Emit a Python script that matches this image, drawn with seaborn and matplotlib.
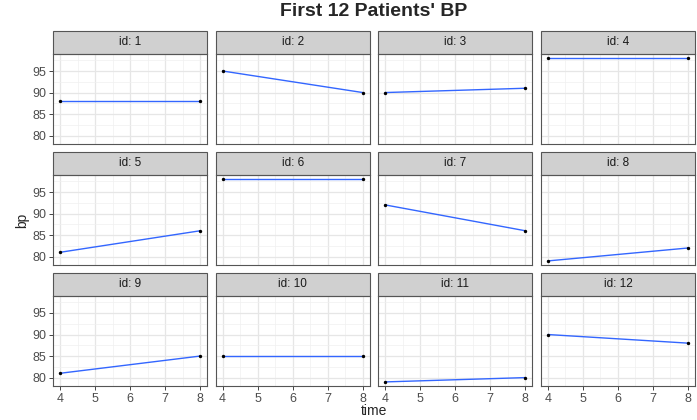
import pandas as pd
import numpy as np
import matplotlib.pyplot as plt
import seaborn as sns
from matplotlib.patches import Rectangle
from matplotlib.ticker import MultipleLocator

# --- data ---
ids = list(range(1, 13))
times = [4, 8]
bp_time4 = [88, 95, 90, 98, 81, 98, 92, 79, 81, 85, 79, 90]
bp_time8 = [88, 90, 91, 98, 86, 98, 86, 82, 85, 85, 80, 88]

rows = []
for i, a, b in zip(ids, bp_time4, bp_time8):
    rows.append({'id': i, 'time': times[0], 'bp': a})
    rows.append({'id': i, 'time': times[1], 'bp': b})
df = pd.DataFrame(rows)

sns.set_style('white')
plt.rcParams['font.family'] = ['Liberation Sans', 'DejaVu Sans']

g = sns.FacetGrid(df, col='id', col_wrap=4, sharex=True, sharey=True,
                  height=1.2, aspect=1.6, despine=False)
g.map_dataframe(sns.lineplot, x='time', y='bp', color='#3366FF', linewidth=1.0)
g.map_dataframe(sns.scatterplot, x='time', y='bp', color='black', s=6, linewidth=0, zorder=5)

fig = g.figure
fig.set_size_inches(6.97, 4.2)
fig.subplots_adjust(left=53/697, right=695/697, top=1-54/420, bottom=1-386/420,
                    wspace=0.055, hspace=0.344)

strip_h = 23 / 90
for k, ax in enumerate(g.axes.flat):
    ax.set_title('')
    ax.set_xlabel('')
    ax.set_ylabel('')
    ax.set_xlim(3.8, 8.2)
    ax.set_ylim(78.05, 98.95)
    ax.xaxis.set_major_locator(MultipleLocator(1))
    ax.xaxis.set_minor_locator(MultipleLocator(0.5))
    ax.yaxis.set_major_locator(MultipleLocator(5))
    ax.yaxis.set_minor_locator(MultipleLocator(2.5))
    ax.set_yticks([80, 85, 90, 95])
    ax.grid(True, which='major', color='#E6E6E6', linewidth=0.9, zorder=0)
    ax.grid(True, which='minor', color='#F0F0F0', linewidth=0.5, zorder=0)
    ax.set_axisbelow(True)
    for sp in ax.spines.values():
        sp.set_color('#555555')
        sp.set_linewidth(0.8)
    ax.tick_params(which='major', length=3, width=0.7, color='#444444',
                   labelsize=9, labelcolor='#4D4D4D', pad=2)
    ax.tick_params(which='minor', length=0)
    col = k % 4
    row = k // 4
    ax.tick_params(axis='y', labelleft=(col == 0), left=(col == 0))
    ax.tick_params(axis='x', labelbottom=(row == 2), bottom=(row == 2))
    ax.add_patch(Rectangle((0, 1), 1, strip_h, transform=ax.transAxes, clip_on=False,
                           facecolor='#D0D0D0', edgecolor='#555555', linewidth=0.8))
    ax.text(0.5, 1 + strip_h / 2, f'id: {ids[k]}', transform=ax.transAxes,
            ha='center', va='center', fontsize=8.5, color='#1A1A1A')

fig.text(374/697, 1 - 12/420, "First 12 Patients' BP", ha='center', va='center',
         fontsize=14, fontweight='bold')
fig.text(374/697, 1 - 411/420, 'time', ha='center', va='center', fontsize=10)
fig.text(22/697, 1 - 220/420, 'bp', ha='center', va='center', fontsize=10, rotation=90)

plt.savefig('out.png', dpi=100)
